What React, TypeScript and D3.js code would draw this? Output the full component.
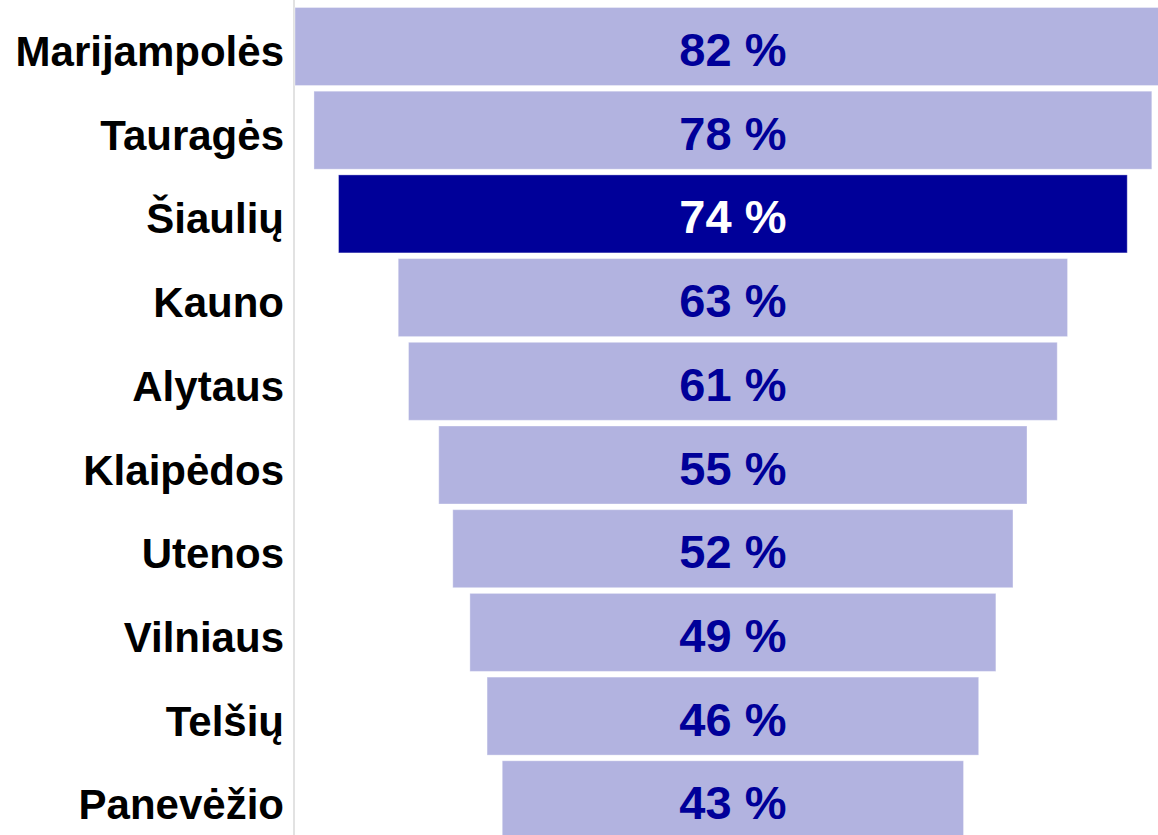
import React from "react";
import * as d3 from "d3";

const regions = ["Marijampolės", "Tauragės", "Šiaulių", "Kauno", "Alytaus", "Klaipėdos", "Utenos", "Vilniaus", "Telšių", "Panevėžio"];
const shares = [82.0, 78.45, 73.85, 62.67, 60.74, 55.08, 52.45, 49.25, 46.03, 43.19];
const highlighted = ["Šiaulių"];

const W = 1158;
const H = 835;

export default function App() {
  const maxV = d3.max(shares) as number;
  const x = d3.scaleLinear().domain([-maxV / 2, maxV / 2]).range([295, 295 + maxV * 10.68]);
  const y = d3
    .scaleBand<string>()
    .domain(regions)
    .range([4.65, 4.65 + 837])
    .paddingInner(0.068)
    .paddingOuter(0.034);
  const font = "Arial, 'Liberation Sans', Helvetica, sans-serif";
  return (
    <svg
      width={W}
      height={H}
      style={{ position: "absolute", left: 0, top: 0, overflow: "hidden", background: "#fff" }}
    >
      <line x1={294} x2={294} y1={0} y2={H} stroke="#e2e2e2" strokeWidth={2} />
      {regions.map((r, i) => {
        const v = shares[i];
        const hl = highlighted.includes(r);
        const y0 = y(r) as number;
        const bw = y.bandwidth();
        const cy = y0 + bw / 2;
        return (
          <g key={r}>
            <rect
              x={x(-v / 2)}
              y={y0}
              width={x(v / 2) - x(-v / 2)}
              height={bw}
              fill={hl ? "#000099" : "#b2b3e0"}
              stroke="#ffffff"
              strokeOpacity={0.35}
              strokeWidth={1}
            />
            <text
              x={x(0)}
              y={cy + 19.5}
              textAnchor="middle"
              fontFamily={font}
              fontWeight="bold"
              fontSize={47}
              fill={hl ? "#ffffff" : "#000099"}
            >
              {`${Math.round(v)} %`}
            </text>
            <text
              x={284}
              y={cy + 19.5}
              textAnchor="end"
              fontFamily={font}
              fontWeight="bold"
              fontSize={42}
              fill="#000000"
            >
              {r}
            </text>
          </g>
        );
      })}
    </svg>
  );
}
